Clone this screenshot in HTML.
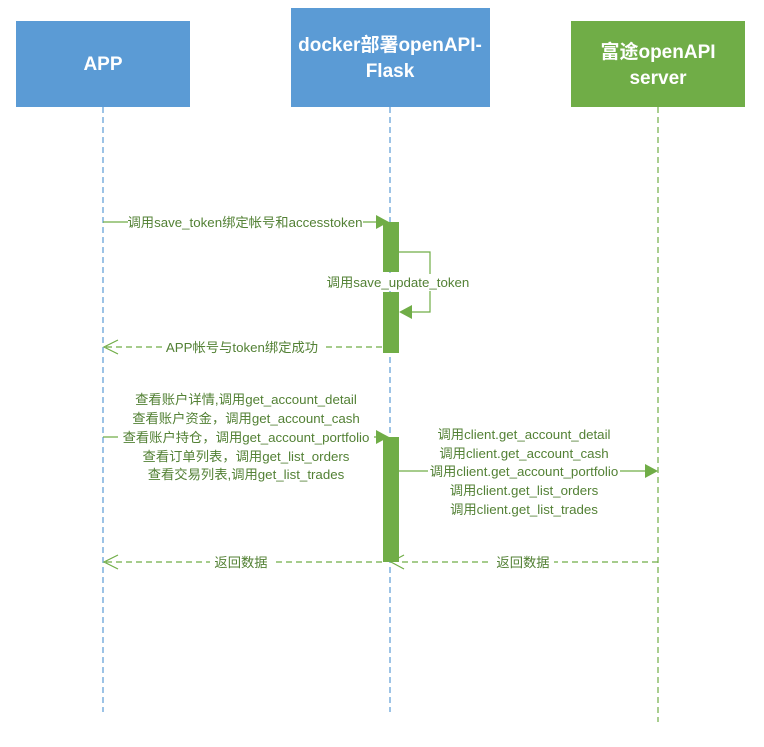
<!DOCTYPE html>
<html><head><meta charset="utf-8"><style>
html,body{margin:0;padding:0;background:#fff;}
svg text{font-family:"Liberation Sans","Noto Sans CJK SC",sans-serif;}
</style></head><body>
<svg width="764" height="742" viewBox="0 0 764 742" xmlns="http://www.w3.org/2000/svg">
<rect x="16" y="21" width="174" height="86" fill="#5b9bd5"/>
<rect x="291" y="8" width="199" height="99" fill="#5b9bd5"/>
<rect x="571" y="21" width="174" height="86" fill="#70ad47"/>
<g fill="#fff" font-weight="bold" font-size="19" text-anchor="middle">
<text x="103" y="70">APP</text>
<text x="390" y="51">docker部署openAPI-</text>
<text x="390" y="77">Flask</text>
<text x="658" y="58">富途openAPI</text>
<text x="658" y="84">server</text>
</g>
<g stroke-dasharray="6,4" stroke-width="1.2" fill="none">
<line x1="103" y1="107" x2="103" y2="712" stroke="#5b9bd5"/>
<line x1="390" y1="107" x2="390" y2="712" stroke="#5b9bd5"/>
<line x1="658" y1="107" x2="658" y2="722" stroke="#70ad47"/>
</g>
<g fill="#70ad47">
<rect x="383" y="222" width="16" height="50"/>
<rect x="383" y="292" width="16" height="61"/>
<rect x="383" y="437" width="16" height="125"/>
</g>
<g stroke="#70ad47" stroke-width="1.2" fill="none">
<line x1="103" y1="222" x2="380" y2="222"/>
<polyline points="399,252 430,252 430,312 404,312"/>
<line x1="103" y1="437" x2="380" y2="437"/>
<line x1="399" y1="471" x2="648" y2="471"/>
<g stroke-dasharray="6,4">
<line x1="106" y1="347" x2="383" y2="347"/>
<line x1="106" y1="562" x2="383" y2="562"/>
<line x1="402" y1="562" x2="658" y2="562"/>
</g>
<polyline points="118,340 104,347 118,354"/>
<polyline points="118,555 104,562 118,569"/>
<polyline points="404,555 391,562 404,569"/>
</g>
<g fill="#70ad47">
<polygon points="376,215 389,222 376,229"/>
<polygon points="399,312 412,305 412,319"/>
<polygon points="376,430 389,437 376,444"/>
<polygon points="645,464 658,471 645,478"/>
</g>
<g font-size="13.3" fill="#538135" text-anchor="middle">
<rect x="128" y="213" width="235" height="17" fill="#fff"/>
<text x="245" y="227">调用save_token绑定帐号和accesstoken</text>
<rect x="327" y="274" width="142" height="17" fill="#fff"/>
<text x="398" y="287">调用save_update_token</text>
<rect x="162" y="339" width="160" height="17" fill="#fff"/>
<text x="242" y="352">APP帐号与token绑定成功</text>
<text x="246" y="404">查看账户详情,调用get_account_detail</text>
<text x="246" y="423">查看账户资金，调用get_account_cash</text>
<rect x="118" y="432" width="256" height="16" fill="#fff"/>
<text x="246" y="442">查看账户持仓，调用get_account_portfolio</text>
<text x="246" y="461">查看订单列表，调用get_list_orders</text>
<text x="246" y="479">查看交易列表,调用get_list_trades</text>
<text x="524" y="439">调用client.get_account_detail</text>
<text x="524" y="458">调用client.get_account_cash</text>
<rect x="428" y="465" width="192" height="16" fill="#fff"/>
<text x="524" y="476">调用client.get_account_portfolio</text>
<text x="524" y="495">调用client.get_list_orders</text>
<text x="524" y="514">调用client.get_list_trades</text>
<rect x="210" y="554" width="62" height="17" fill="#fff"/>
<text x="241" y="567">返回数据</text>
<rect x="492" y="554" width="62" height="17" fill="#fff"/>
<text x="523" y="567">返回数据</text>
</g>
</svg>
</body></html>
